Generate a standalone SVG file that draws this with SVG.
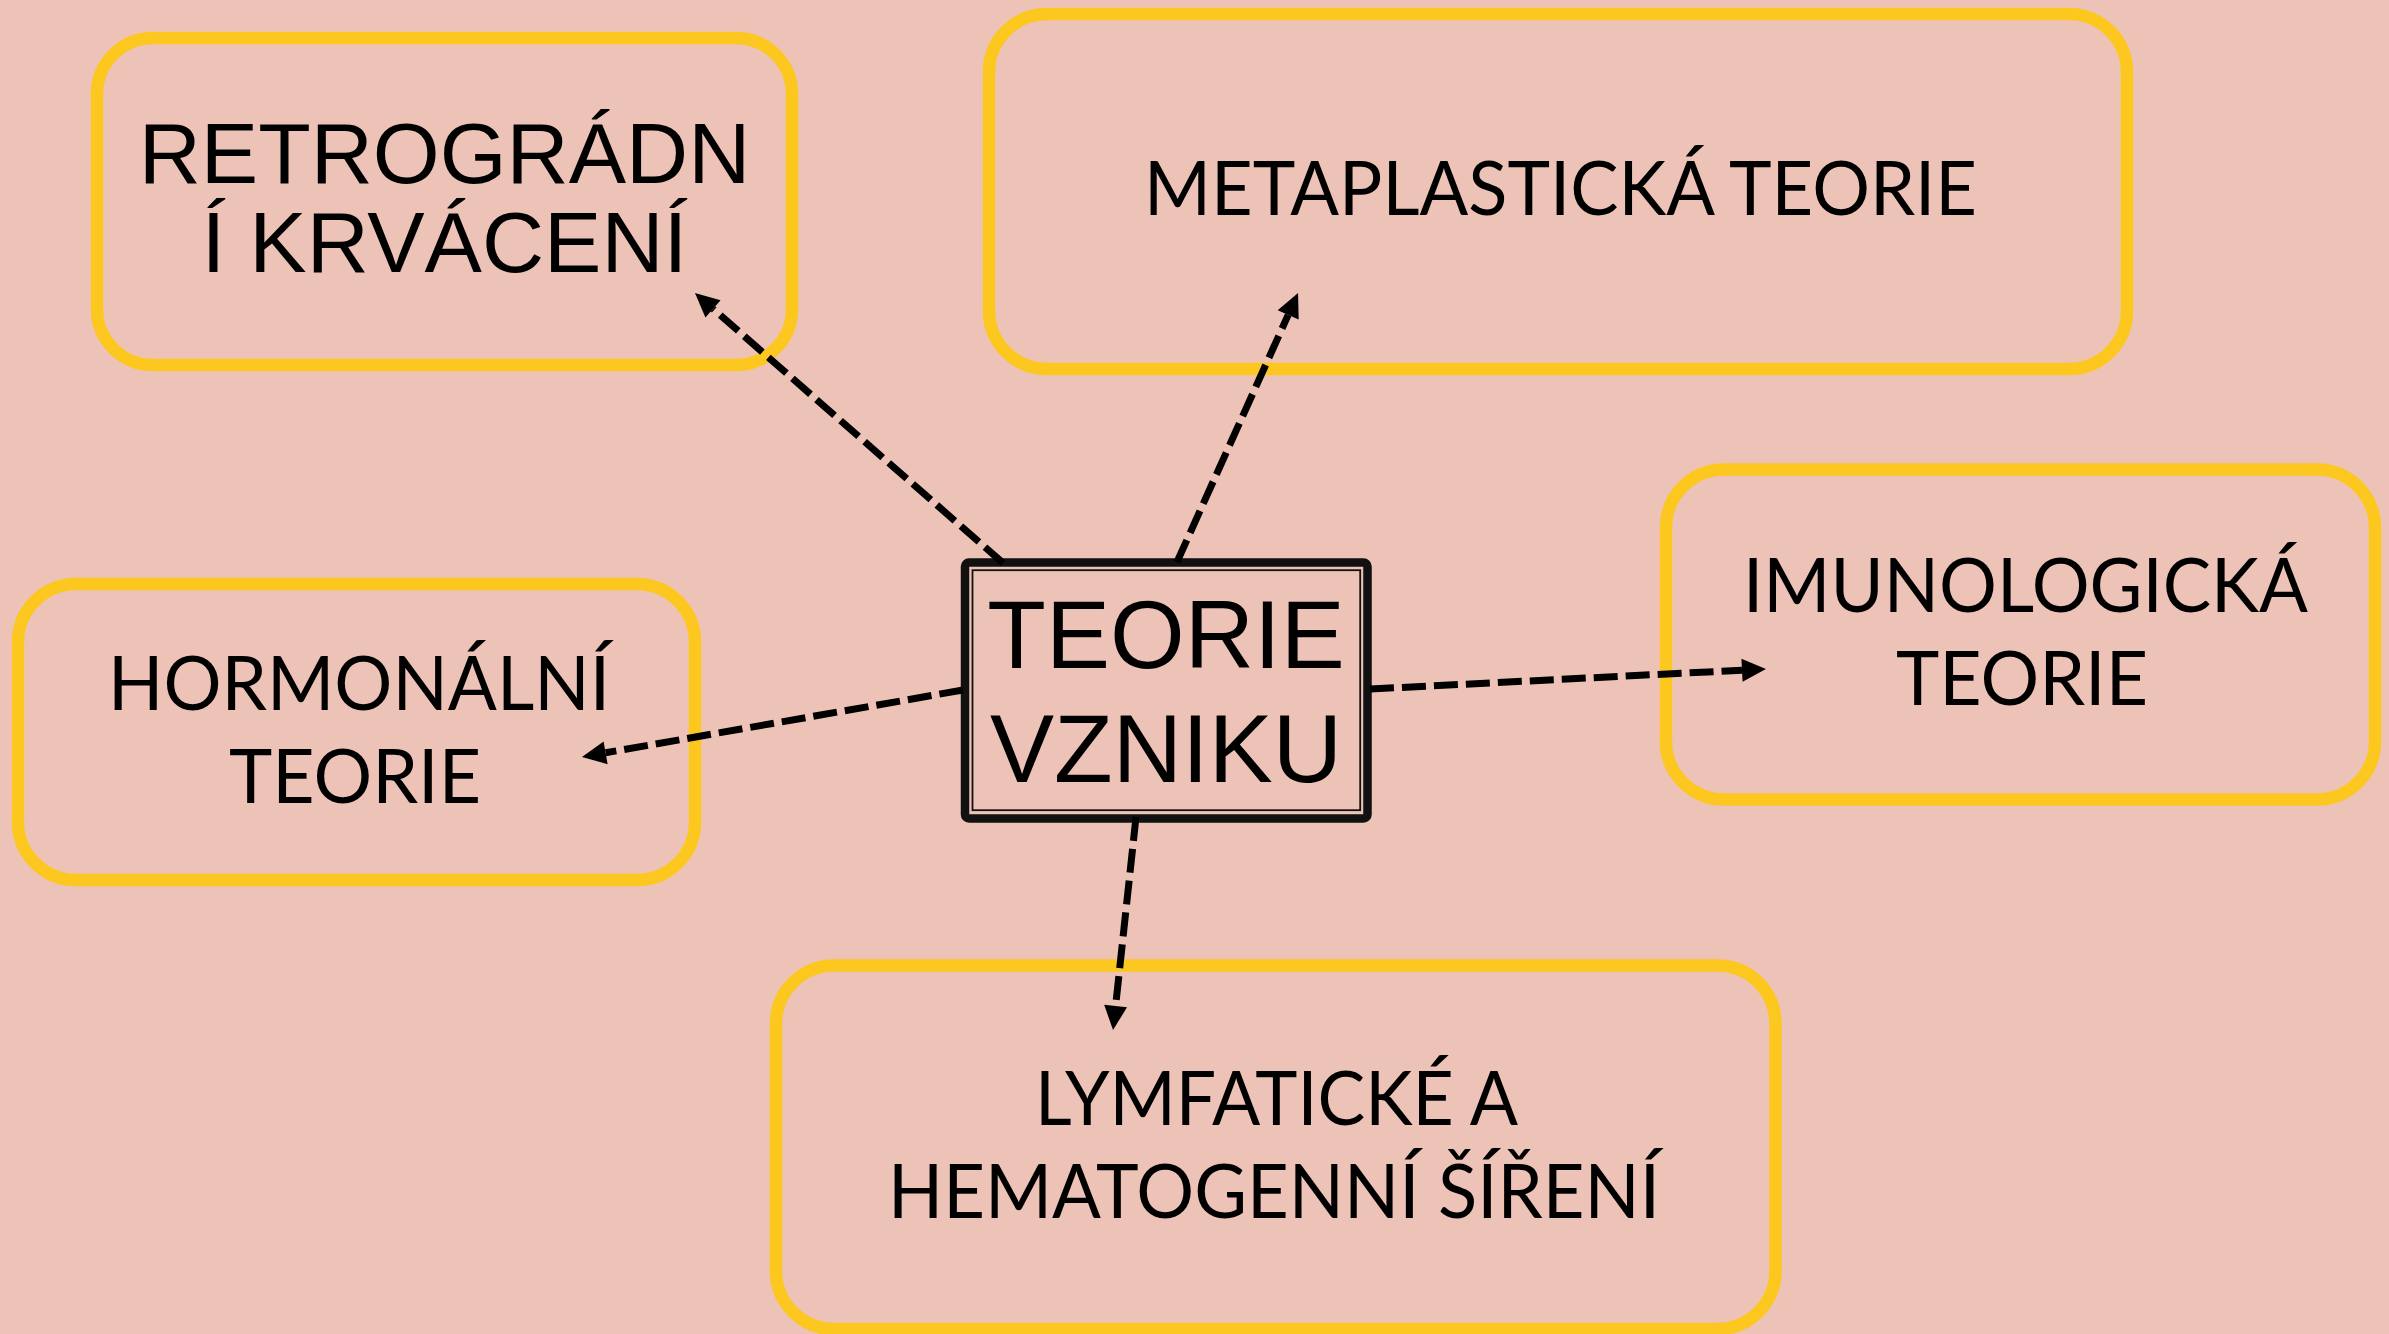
<svg xmlns="http://www.w3.org/2000/svg" width="2389" height="1334" viewBox="0 0 2389 1334">
<style>
.bg{fill:#EEC3B7}
.box{fill:none;stroke:#FCC71F;stroke-width:12.5}
.cal{font-family:Lato,"Open Sans","Noto Sans",sans-serif;font-size:75px;fill:#000;text-anchor:middle}
.ari{font-family:"Liberation Sans",Arial,sans-serif;fill:#000;text-anchor:middle}
.con{fill:none;stroke:#000;stroke-width:7;stroke-dasharray:24 8;marker-end:url(#ah)}
</style>
<defs>
<marker id="ah" markerUnits="userSpaceOnUse" markerWidth="26" markerHeight="24" refX="0" refY="11.5" orient="auto" overflow="visible">
<path d="M0,0 L24,11.5 L0,23 Z" fill="#000"/>
</marker>
</defs>
<rect class="bg" x="0" y="0" width="2389" height="1334"/>

<g id="node-retrogradni">
<rect class="box" x="97" y="38" width="695" height="327" rx="56" ry="56"/>
<text class="ari" font-size="86" x="444.5" y="183">RETROGRÁDN</text>
<text class="ari" font-size="86" x="444.5" y="272">Í KRVÁCENÍ</text>
</g>

<g id="node-metaplasticka">
<rect class="box" x="989" y="14" width="1138" height="355" rx="58" ry="58"/>
<text class="cal" x="1560.5" y="215" textLength="833" lengthAdjust="spacingAndGlyphs">METAPLASTICKÁ TEORIE</text>
</g>

<g id="node-imunologicka">
<rect class="box" x="1666" y="469.5" width="709" height="330" rx="58" ry="58"/>
<text class="cal" x="2025.5" y="612" textLength="565" lengthAdjust="spacingAndGlyphs">IMUNOLOGICKÁ</text>
<text class="cal" x="2022" y="705" textLength="252" lengthAdjust="spacingAndGlyphs">TEORIE</text>
</g>

<g id="node-hormonalni">
<rect class="box" x="18" y="584" width="677" height="296" rx="58" ry="58"/>
<text class="cal" x="359" y="710" textLength="502" lengthAdjust="spacingAndGlyphs">HORMONÁLNÍ</text>
<text class="cal" x="355" y="803" textLength="252" lengthAdjust="spacingAndGlyphs">TEORIE</text>
</g>

<g id="node-lymfaticke">
<rect class="box" x="776" y="965.5" width="999.5" height="363.5" rx="58" ry="58"/>
<text class="cal" x="1276.5" y="1125" textLength="483" lengthAdjust="spacingAndGlyphs">LYMFATICKÉ A</text>
<text class="cal" x="1274" y="1218" textLength="772" lengthAdjust="spacingAndGlyphs">HEMATOGENNÍ ŠÍŘENÍ</text>
</g>

<g id="node-teorie-vzniku">
<rect x="965" y="562.5" width="402.5" height="256" rx="4" ry="4" fill="#EEC3B7" stroke="#111" stroke-width="8.5"/>
<rect x="972.5" y="570.2" width="387.7" height="240" fill="none" stroke="#111" stroke-width="1.8"/>
<text class="ari" font-size="96" x="1166" y="668">TEORIE</text>
<text class="ari" font-size="96" x="1166" y="782">VZNIKU</text>
</g>

<g id="connectors">
<line class="con" x1="1003" y1="563" x2="713" y2="308.8"/>
<line class="con" x1="1177" y1="562" x2="1288.2" y2="314.9"/>
<line class="con" x1="1370" y1="689" x2="1742" y2="670.2"/>
<line class="con" x1="963" y1="690" x2="605.6" y2="752.8"/>
<line class="con" x1="1136" y1="817" x2="1115.6" y2="1006.1"/>
</g>
</svg>
